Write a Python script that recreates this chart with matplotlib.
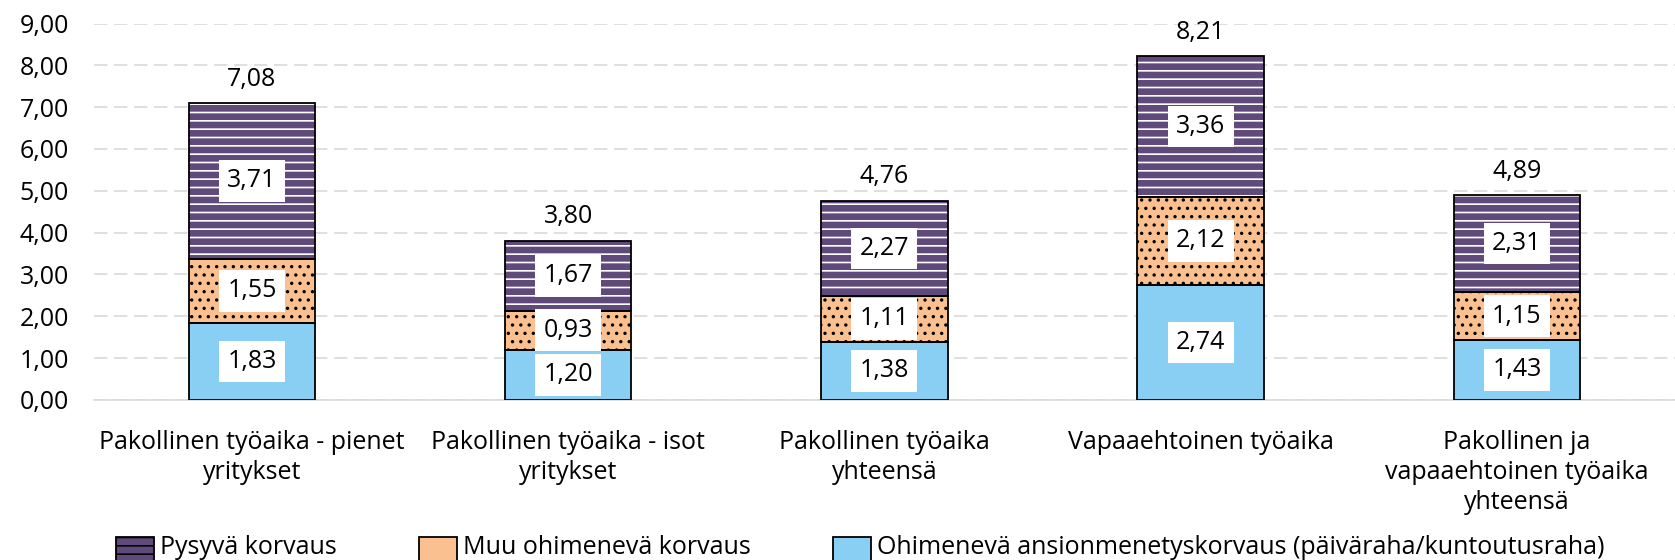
import matplotlib.pyplot as plt
from matplotlib.patches import Patch, Rectangle
from matplotlib.legend_handler import HandlerPatch

categories = [
    "Pakollinen työaika - pienet\nyritykset",
    "Pakollinen työaika - isot\nyritykset",
    "Pakollinen työaika\nyhteensä",
    "Vapaaehtoinen työaika",
    "Pakollinen ja\nvapaaehtoinen työaika\nyhteensä",
]
ohimeneva_ansio = [1.83, 1.20, 1.38, 2.74, 1.43]
muu_ohimeneva = [1.55, 0.93, 1.11, 2.12, 1.15]
pysyva = [3.71, 1.67, 2.27, 3.36, 2.31]
totals = [7.08, 3.80, 4.76, 8.21, 4.89]

series_names = [
    "Pysyvä korvaus",
    "Muu ohimenevä korvaus",
    "Ohimenevä ansionmenetyskorvaus (päiväraha/kuntoutusraha)",
]

PURPLE = "#604a7b"
ORANGE = "#fac090"
BLUE = "#89cff4"
FS = 18

plt.rcParams["font.family"] = ["Open Sans", "DejaVu Sans"]
plt.rcParams["font.size"] = FS
plt.rcParams["hatch.linewidth"] = 1.2


def fmt(v):
    return f"{v:.2f}".replace(".", ",")


def low_box(legend, orig_handle, xdescent, ydescent, width, height, fontsize):
    # handle sits mostly below the text baseline, like the original
    return Rectangle((-xdescent, 12 - height), width, height)


fig = plt.figure(figsize=(16.75, 5.6), dpi=100)
ax = fig.add_axes([0.056, 0.286, 0.944, 0.672])

x = list(range(len(categories)))
width = 0.4
bottom2 = [a + b for a, b in zip(ohimeneva_ansio, muu_ohimeneva)]

layers = [
    (ohimeneva_ansio, [0] * len(x), BLUE, None, None),
    (muu_ohimeneva, ohimeneva_ansio, ORANGE, "..", "black"),
    (pysyva, bottom2, PURPLE, "--", "white"),
]
for vals, bot, color, hatch, hcol in layers:
    if hatch:
        ax.bar(x, vals, width, bottom=bot, color=color, hatch=hatch,
               edgecolor=hcol, linewidth=0, zorder=2)
    else:
        ax.bar(x, vals, width, bottom=bot, color=color, linewidth=0, zorder=2)
    ax.bar(x, vals, width, bottom=bot, fill=False, edgecolor="black",
           linewidth=1.3, zorder=3)
    for xi, v, b in zip(x, vals, bot):
        ax.text(xi, b + v / 2, fmt(v), ha="center", va="center", fontsize=FS,
                zorder=4,
                bbox=dict(facecolor="white", edgecolor="none", pad=6))

for xi, t in zip(x, totals):
    ax.text(xi, t + 0.28, fmt(t), ha="center", va="bottom", fontsize=FS)

ax.set_xlim(-0.5, 4.5)
ax.set_ylim(0, 9)
ax.set_yticks(range(10))
ax.set_yticklabels([fmt(v) for v in range(10)], fontsize=FS)
ax.set_xticks(x)
ax.set_xticklabels(categories, fontsize=FS, linespacing=1.25)
ax.tick_params(length=0)
ax.tick_params(axis="y", pad=18)
ax.tick_params(axis="x", pad=22)
ax.grid(axis="y", color="#d9d9d9", linestyle=(0, (8, 4)), linewidth=1.2, zorder=0)
for s in ["top", "right", "left"]:
    ax.spines[s].set_visible(False)
ax.spines["bottom"].set_color("#d9d9d9")
ax.spines["bottom"].set_linewidth(1.2)

handles = [
    Patch(facecolor=PURPLE, edgecolor="black", hatch="--", linewidth=1.3),
    Patch(facecolor=ORANGE, edgecolor="black", linewidth=1.3),
    Patch(facecolor=BLUE, edgecolor="black", linewidth=1.3),
]
fig.legend(handles, series_names, loc="center left",
           bbox_to_anchor=(0.056, 0.026), ncol=3, frameon=False, fontsize=FS,
           handlelength=1.5, handleheight=1.6, handletextpad=0.25,
           columnspacing=3.3,
           handler_map={Patch: HandlerPatch(patch_func=low_box)})

fig.savefig("out.png", dpi=100)
